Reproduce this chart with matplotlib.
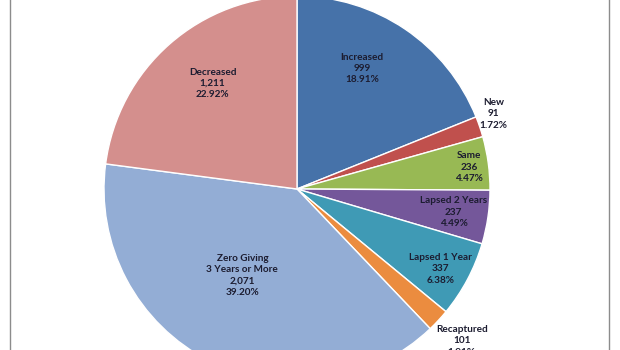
import numpy as np
import matplotlib
matplotlib.use("Agg")
import matplotlib.pyplot as plt

# Donor giving categories, clockwise from 12 o'clock
categories = ["Increased", "New", "Same", "Lapsed 2 Years", "Lapsed 1 Year",
              "Recaptured", "Zero Giving\n3 Years or More", "Decreased"]
counts = [999, 91, 236, 237, 337, 101, 2071, 1211]

colors = ["#4672A9", "#C0504D", "#98B954", "#74579A", "#3F9AB5",
          "#EB8C3F", "#93ADD5", "#D48F8D"]

# label placement: radial distance (fraction of radius) and angular nudge (deg)
label_dist = [0.71, 1.09, 0.90, 0.82, 0.85, 1.16, 0.53, 0.70]
label_nudge = [-5.6, -2.1, 0.5, 0.0, 1.1, -0.3, 5.4, 2.6]

W, H, DPI = 620, 350, 100
R_PX = 193.0
CX, CY = 297.0, 189.0  # pie centre in pixels from top-left

fig = plt.figure(figsize=(W / DPI, H / DPI), dpi=DPI)
ax = fig.add_axes([0, 0, 1, 1])

ax.pie(counts, colors=colors, startangle=90, counterclock=False,
       radius=1.0, center=(0, 0),
       wedgeprops=dict(edgecolor="white", linewidth=1.0))

ax.set_xlim(-CX / R_PX, (W - CX) / R_PX)
ax.set_ylim(-(H - CY) / R_PX, CY / R_PX)
ax.set_aspect("auto")
ax.axis("off")

total = float(sum(counts))
cum = np.cumsum([0] + counts[:-1]) / total
fracs = np.array(counts) / total
for name, c, start, f, d, nudge in zip(categories, counts, cum, fracs,
                                        label_dist, label_nudge):
    ang = np.deg2rad((start + f / 2) * 360 + nudge)  # clockwise from north
    x, y = d * np.sin(ang), d * np.cos(ang)
    txt = f"{name}\n{c:,}\n{f * 100:.2f}%"
    ax.text(x, y, txt, ha="center", va="center", fontsize=7.2,
            fontweight="bold", color="#1C1C30", family="Lato",
            linespacing=1.35)

# chart-area frame
for xp in (10, 609):
    ax.axvline((xp - CX) / R_PX, color="#8C8C8C", linewidth=1.0)

fig.savefig("out.png", dpi=DPI, facecolor="white")
